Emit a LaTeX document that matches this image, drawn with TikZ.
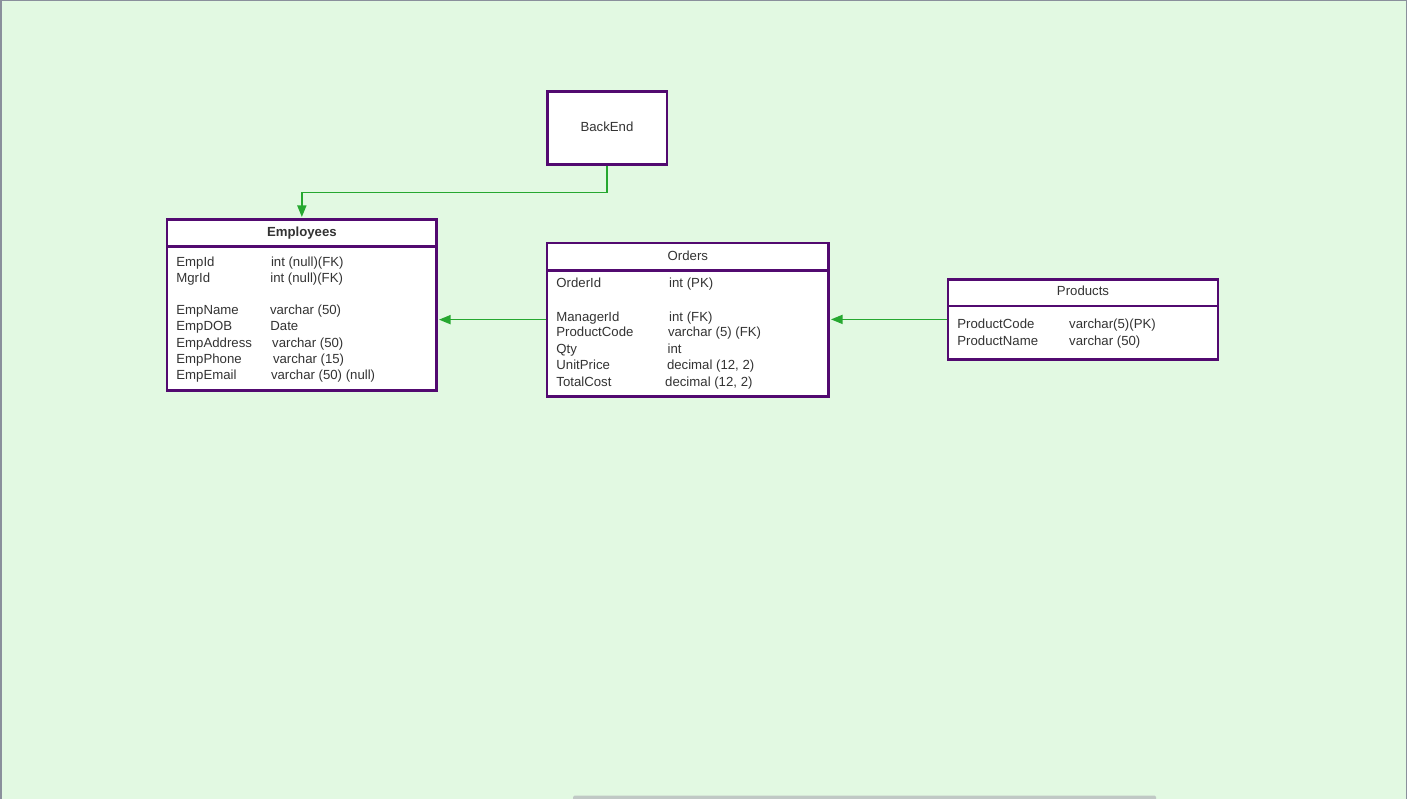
\documentclass[tikz,border=0pt]{standalone}
\usepackage{fontspec}
\setmainfont{Liberation Sans}
\usetikzlibrary{arrows.meta}
\definecolor{canvas}{RGB}{226,249,226}
\definecolor{frame}{RGB}{138,144,156}
\definecolor{scroll}{RGB}{192,201,197}
\definecolor{entity}{RGB}{82,10,112}
\definecolor{ink}{RGB}{51,51,51}
\definecolor{relgreen}{RGB}{38,168,48}
\begin{document}
\begin{tikzpicture}[x=1pt,y=-1pt,
  tablebox/.style={draw=entity, line width=2.6pt, fill=white, rectangle, inner sep=0pt},
  divider/.style={draw=entity, line width=2.6pt},
  fld/.style={anchor=base west, inner sep=0pt, text=ink, font=\fontsize{13.2}{16}\selectfont},
  ttl/.style={anchor=base, inner sep=0pt, text=ink, font=\fontsize{13.2}{16}\selectfont},
  link/.style={draw=relgreen, line width=1.5pt, -{Triangle[length=11.5pt,width=9pt]}, shorten >=1pt}]
\useasboundingbox (0,0) rectangle (1407,799);
% canvas, window frame and scrollbar
\fill[canvas] (0,0) rectangle (1407,799);
\fill[frame] (0,0) rectangle (2,799);
\fill[frame] (0,0) rectangle (1407,1.2);
\fill[frame] (1405.5,0) rectangle (1407,799);
\fill[scroll, rounded corners=1.5pt] (573,795.5) rectangle (1156,802);

% BackEnd box
\node[tablebox, minimum width=119.6pt, minimum height=72.9pt] (backend) at (607,128.25) {};
\node[ttl] (backendt) at (607,132) {BackEnd};

% Employees table
\node[tablebox, minimum width=269.7pt, minimum height=171.4pt] (emp) at (301.85,305) {};
\draw[divider] (167,246.3) -- (436.7,246.3);
\node[ttl, font=\fontsize{13.2}{16}\selectfont\bfseries] (empt) at (301.85,237) {Employees};
\node[fld] (e1a) at (176.2,266.5) {EmpId};
\node[fld] (e1b) at (270.8,266.5) {int (null)(FK)};
\node[fld] (e2a) at (176.2,282.5) {MgrId};
\node[fld] (e2b) at (270.2,282.5) {int (null)(FK)};
\node[fld] (e3a) at (176.2,314.5) {EmpName};
\node[fld] (e3b) at (269.8,314.5) {varchar (50)};
\node[fld] (e4a) at (176.2,330.5) {EmpDOB};
\node[fld] (e4b) at (270.2,330.5) {Date};
\node[fld] (e5a) at (176.2,347) {EmpAddress};
\node[fld] (e5b) at (272,347) {varchar (50)};
\node[fld] (e6a) at (176.2,363) {EmpPhone};
\node[fld] (e6b) at (272.8,363) {varchar (15)};
\node[fld] (e7a) at (176.2,379) {EmpEmail};
\node[fld] (e7b) at (270.8,379) {varchar (50) (null)};

% Orders table
\node[tablebox, minimum width=281.7pt, minimum height=153.3pt] (orders) at (687.85,319.65) {};
\draw[divider] (547,270.7) -- (828.7,270.7);
\node[ttl] (orderst) at (687.85,261) {Orders};
\node[fld] (o1a) at (556.2,288) {OrderId};
\node[fld] (o1b) at (669,288) {int (PK)};
\node[fld] (o2a) at (556.2,321) {ManagerId};
\node[fld] (o2b) at (669,321) {int (FK)};
\node[fld] (o3a) at (556.2,337) {ProductCode};
\node[fld] (o3b) at (667.8,337) {varchar (5) (FK)};
\node[fld] (o4a) at (556.2,353) {Qty};
\node[fld] (o4b) at (667.4,353) {int};
\node[fld] (o5a) at (556.2,369) {UnitPrice};
\node[fld] (o5b) at (666.8,369) {decimal (12, 2)};
\node[fld] (o6a) at (556.2,386) {TotalCost};
\node[fld] (o6b) at (665,386) {decimal (12, 2)};

% Products table
\node[tablebox, minimum width=270pt, minimum height=80.2pt] (prod) at (1083,319.4) {};
\draw[divider] (948,306) -- (1218,306);
\node[ttl] (prodt) at (1083,296) {Products};
\node[fld] (p1a) at (957.2,329) {ProductCode};
\node[fld] (p1b) at (1069,329) {varchar(5)(PK)};
\node[fld] (p2a) at (957.2,345) {ProductName};
\node[fld] (p2b) at (1069,345) {varchar (50)};

% relationships
\draw[link] (backend.south) -- ++(0,26.5) -| (emp.north);
\draw[link] (orders.west) -- (orders.west -| emp.east);
\draw[link] (prod.west) -- (prod.west -| orders.east);
\end{tikzpicture}
\end{document}
